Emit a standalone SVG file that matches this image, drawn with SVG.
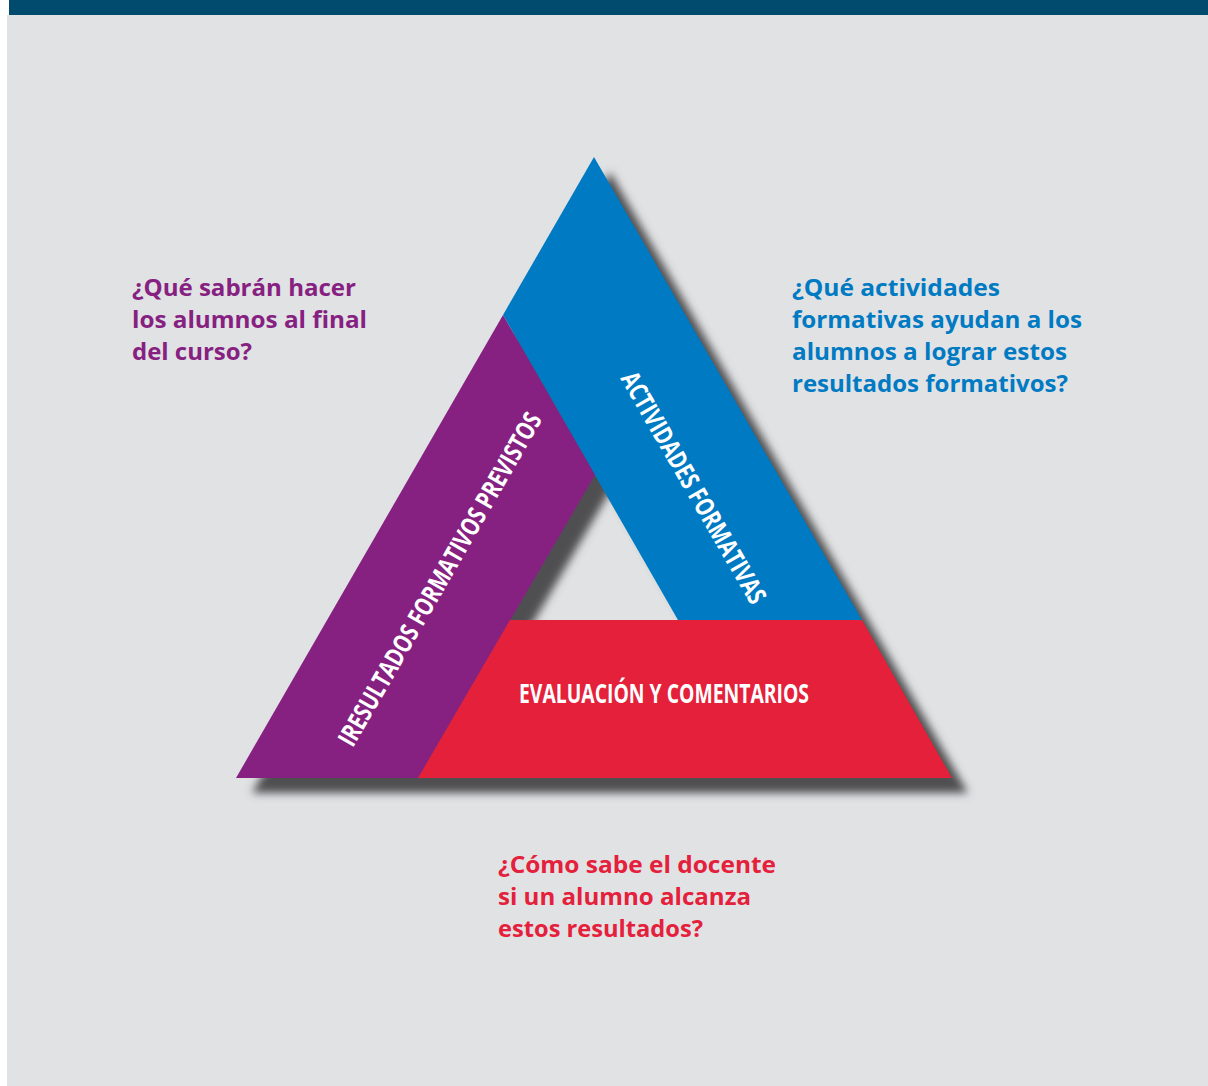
<svg xmlns="http://www.w3.org/2000/svg" width="1208" height="1086" viewBox="0 0 1208 1086">
  <style>
    .q { font-family: "Open Sans", "Noto Sans", "Liberation Sans", sans-serif; font-weight: 700; font-size: 24px; }
    .band { font-family: "Open Sans", "Noto Sans", "Liberation Sans", sans-serif; font-weight: 700; font-size: 26px; fill: #ffffff; text-anchor: middle; }
    .purple { fill: #862181; }
    .blue { fill: #007ac2; }
    .red { fill: #e4203b; }
  </style>
  <defs>
    <filter id="shadow" x="-10%" y="-10%" width="130%" height="130%">
      <feGaussianBlur stdDeviation="4"/>
    </filter>
  </defs>
  <rect x="0" y="0" width="1208" height="1086" fill="#ffffff"/>
  <rect x="7" y="15" width="1201" height="1071" fill="#e1e2e4"/>
  <rect x="9" y="0" width="1199" height="15" fill="#004b6e"/>

  <g id="shadow-layer">
    <path d="M610,172 L968,793 L252,793 Z M611,490 L526,635 L694,635 Z" fill="#4f4f51" fill-rule="evenodd" filter="url(#shadow)"/>
  </g>

  <g id="node-actividades">
    <polygon points="594,157 862,620 678,620 503,315" fill="#007ac2"/>
    <text class="band" transform="translate(694,487.5) rotate(60)" x="0" y="9.5" textLength="263" lengthAdjust="spacingAndGlyphs">ACTIVIDADES FORMATIVAS</text>
  </g>

  <g id="node-resultados">
    <polygon points="503,315 595,475 418,778 236,778" fill="#862181"/>
    <text class="band" transform="translate(439.5,579) rotate(-60)" x="0" y="9.5" textLength="380" lengthAdjust="spacingAndGlyphs">IRESULTADOS FORMATIVOS PREVISTOS</text>
  </g>

  <g id="node-evaluacion">
    <polygon points="510,620 862,620 952,778 418,778" fill="#e4203b"/>
    <text class="band" x="664" y="703" textLength="290" lengthAdjust="spacingAndGlyphs">EVALUACIÓN Y COMENTARIOS</text>
  </g>

  <g id="connectors"></g>

  <g id="question-resultados" class="q purple">
    <text x="132" y="296" textLength="224" lengthAdjust="spacingAndGlyphs">¿Qué sabrán hacer</text>
    <text x="132" y="328" textLength="235" lengthAdjust="spacingAndGlyphs">los alumnos al final</text>
    <text x="132" y="360" textLength="120" lengthAdjust="spacingAndGlyphs">del curso?</text>
  </g>

  <g id="question-actividades" class="q blue">
    <text x="792" y="296" textLength="208" lengthAdjust="spacingAndGlyphs">¿Qué actividades</text>
    <text x="792" y="328" textLength="290" lengthAdjust="spacingAndGlyphs">formativas ayudan a los</text>
    <text x="792" y="360" textLength="275" lengthAdjust="spacingAndGlyphs">alumnos a lograr estos</text>
    <text x="792" y="392" textLength="276" lengthAdjust="spacingAndGlyphs">resultados formativos?</text>
  </g>

  <g id="question-evaluacion" class="q red">
    <text x="498" y="873" textLength="278" lengthAdjust="spacingAndGlyphs">¿Cómo sabe el docente</text>
    <text x="498" y="905" textLength="253" lengthAdjust="spacingAndGlyphs">si un alumno alcanza</text>
    <text x="498" y="937" textLength="205" lengthAdjust="spacingAndGlyphs">estos resultados?</text>
  </g>
</svg>
